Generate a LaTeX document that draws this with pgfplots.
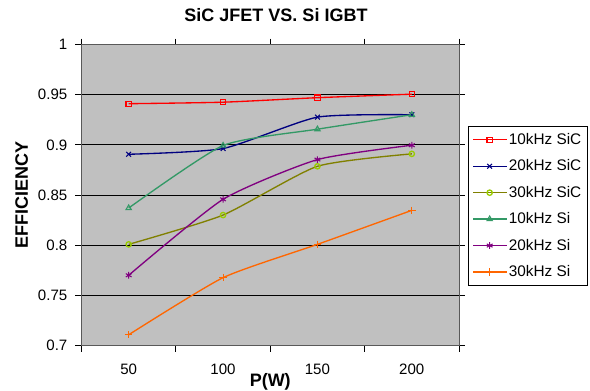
\documentclass[border=0pt]{standalone}
\usepackage{pgfplots}
\pgfplotsset{compat=1.18}
\usepackage{fontspec}
\setmainfont{Liberation Sans}
\definecolor{plotbg}{HTML}{C0C0C0}
\definecolor{cred}{HTML}{FF0000}
\definecolor{cnavy}{HTML}{000080}
\definecolor{colive}{HTML}{808000}
\definecolor{colivem}{HTML}{99CC00}
\definecolor{cgreen}{HTML}{339966}
\definecolor{cpurple}{HTML}{800080}
\definecolor{corange}{HTML}{FF6600}
\begin{document}
\begin{tikzpicture}
\path[use as bounding box] (-61.125pt,-33.375pt) rectangle (381.375pt,259.125pt);
\begin{axis}[
  at={(0,0)}, anchor=south west,
  scale only axis, width=283.125pt, height=225.75pt,
  xmin=-0.5, xmax=3.5, ymin=0.7, ymax=1.0,
  axis background/.style={fill=plotbg},
  axis line style={draw=black!65, line width=0.6pt},
  xtick={-0.5,0.5,1.5,2.5,3.5}, xticklabels={},
  extra x ticks={0,1,2,3}, extra x tick labels={50,100,150,200},
  extra x tick style={major tick length=0pt, grid=none,
     xticklabel style={anchor=center, yshift=-17.9pt}},
  ytick={0.7,0.75,0.8,0.85,0.9,0.95,1},
  yticklabel style={/pgf/number format/fixed, /pgf/number format/precision=2, xshift=-2.6pt},
  ymajorgrids, grid style={black, line width=0.6pt},
  tick align=outside, major tick length=4.5pt,
  tick style={black, line width=0.6pt},
  tick label style={font=\fontsize{11.3}{13}\selectfont},
  /pgf/number format/assume math mode=true,
  title={\bfseries SiC JFET VS. Si IGBT},
  title style={at={(axis description cs:0.5152,1.0713)}, anchor=center, font=\fontsize{13.5}{15}\selectfont},
  xlabel={\bfseries P(W)},
  xlabel style={at={(axis description cs:0.5,-0.1192)}, anchor=center, font=\fontsize{13.5}{15}\selectfont},
  ylabel={\bfseries EFFICIENCY},
  ylabel style={at={(axis description cs:-0.1586,0.5)}, anchor=center, rotate=0, font=\fontsize{13.5}{15}\selectfont},
  legend style={at={(axis description cs:1.0238,0.729)}, anchor=north west,
     draw=black, line width=0.75pt, fill=white, font=\fontsize{11.5}{13}\selectfont,
     inner xsep=3pt, inner ysep=3.5pt, row sep=7pt, nodes={inner sep=1.5pt}},
  legend cell align=left,
  legend image code/.code={\draw[mark repeat=2,mark phase=2,#1] plot coordinates {(0pt,0pt)(12.4pt,0pt)(24.8pt,0pt)};},
  every axis plot/.append style={line width=1pt, smooth, tension=0.35, mark size=2pt, mark options={solid, line width=0.8pt}},
]
\addplot[cred, mark=square] coordinates {(0,0.941)(1,0.9425)(2,0.947)(3,0.9505)};
\addlegendentry{10kHz SiC}
\addplot[cnavy, mark=x, mark size=2.5pt] coordinates {(0,0.8906)(1,0.8963)(2,0.9276)(3,0.930)};
\addlegendentry{20kHz SiC}
\addplot[colive, mark=o, mark options={draw=colivem}] coordinates {(0,0.8008)(1,0.830)(2,0.8786)(3,0.891)};
\addlegendentry{30kHz SiC}
\addplot[cgreen, mark=triangle, mark size=2.3pt] coordinates {(0,0.837)(1,0.8993)(2,0.9156)(3,0.930)};
\addlegendentry{10kHz Si}
\addplot[cpurple, mark=asterisk, mark size=2.5pt] coordinates {(0,0.770)(1,0.8457)(2,0.8853)(3,0.8996)};
\addlegendentry{20kHz Si}
\addplot[corange, mark=+, mark size=2.8pt] coordinates {(0,0.7107)(1,0.7676)(2,0.8008)(3,0.8347)};
\addlegendentry{30kHz Si}
\end{axis}
\end{tikzpicture}
\end{document}
